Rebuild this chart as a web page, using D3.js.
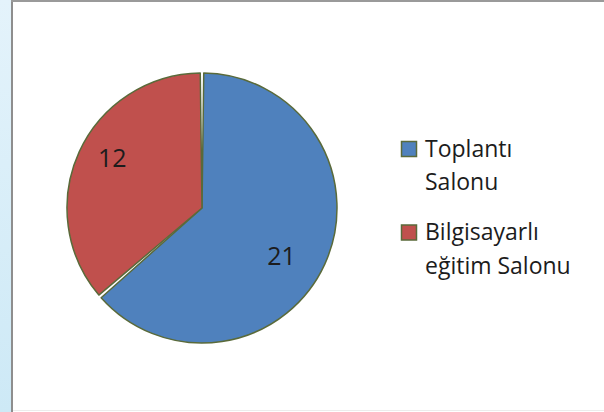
<!DOCTYPE html>
<html>
<head>
<meta charset="utf-8">
<script src="https://cdn.jsdelivr.net/npm/d3@7"></script>
<style>
  body { margin: 0; background: #fff; }
  svg { display: block; font-family: "Open Sans", sans-serif; }
</style>
</head>
<body>
<svg id="chart" width="604" height="412"></svg>
<script>
// chart data
var categories = ['Toplantı Salonu', 'Bilgisayarlı eğitim Salonu'];
var values = [21, 12];
var legendLines = [['Toplantı', 'Salonu'], ['Bilgisayarlı', 'eğitim Salonu']];
var colors = ['#4f81bd', '#c0504d'];

var width = 604;
var height = 412;
var cx = 202;
var cy = 208;
var radius = 135;

var svg = d3.select('#chart');

// frame: blue strip on the left, grey border
var defs = svg.append('defs');
var grad = defs.append('linearGradient')
  .attr('id', 'strip')
  .attr('x1', 0).attr('y1', 0)
  .attr('x2', 0).attr('y2', 1);
grad.append('stop').attr('offset', '0%').attr('stop-color', '#e4f3fb');
grad.append('stop').attr('offset', '100%').attr('stop-color', '#cde9f6');

svg.append('rect')
  .attr('x', 0).attr('y', 0)
  .attr('width', 11).attr('height', height)
  .attr('fill', 'url(#strip)');

svg.append('rect')
  .attr('x', 11).attr('y', 0)
  .attr('width', 2).attr('height', height)
  .attr('fill', '#8e8e8e');

svg.append('rect')
  .attr('x', 11).attr('y', 0)
  .attr('width', width - 11).attr('height', 2)
  .attr('fill', '#9a9a9a');

svg.append('rect')
  .attr('x', 13).attr('y', 410)
  .attr('width', width - 13).attr('height', 1)
  .attr('fill', '#ececec');

// pie
var pie = d3.pie().sort(null).value(function(d) { return d; });
var arcs = pie(values);

var arc = d3.arc()
  .innerRadius(0)
  .outerRadius(radius)
  .padAngle(3.5 / radius)
  .padRadius(radius);

var g = svg.append('g')
  .attr('transform', 'translate(' + cx + ',' + cy + ')');

g.selectAll('path')
  .data(arcs)
  .enter()
  .append('path')
  .attr('d', arc)
  .attr('fill', function(d, i) { return colors[i]; })
  .attr('stroke', '#5a6a3a')
  .attr('stroke-width', 1.5)
  .attr('stroke-linejoin', 'round');

// data labels, a little past the middle of each slice
var labelRadius = 98;
var labels = g.append('g')
  .attr('transform', 'translate(-5,-2)');

labels.selectAll('text')
  .data(arcs)
  .enter()
  .append('text')
  .attr('x', function(d) {
    var a = (d.startAngle + d.endAngle) / 2 + 0.1;
    return Math.sin(a) * labelRadius;
  })
  .attr('y', function(d) {
    var a = (d.startAngle + d.endAngle) / 2 + 0.1;
    return -Math.cos(a) * labelRadius;
  })
  .attr('text-anchor', 'middle')
  .attr('dominant-baseline', 'central')
  .attr('font-size', 25)
  .attr('fill', '#1c1c1c')
  .text(function(d) { return d.value; });

// legend
var legend = svg.append('g')
  .attr('transform', 'translate(401,141)');

var item = legend.selectAll('g')
  .data(categories)
  .enter()
  .append('g')
  .attr('transform', function(d, i) { return 'translate(0,' + (i * 83.5) + ')'; });

item.append('rect')
  .attr('x', 0.5).attr('y', 0.5)
  .attr('width', 15).attr('height', 15)
  .attr('fill', function(d, i) { return colors[i]; })
  .attr('stroke', '#5a6a3a')
  .attr('stroke-width', 1.5);

item.append('text')
  .attr('x', 24)
  .attr('y', 15.5)
  .attr('font-size', 23)
  .attr('fill', '#1c1c1c')
  .selectAll('tspan')
  .data(function(d, i) { return legendLines[i]; })
  .enter()
  .append('tspan')
  .attr('x', 24)
  .attr('dy', function(d, j) { return j === 0 ? 0 : 33.5; })
  .text(function(d) { return d; });
</script>
</body>
</html>
